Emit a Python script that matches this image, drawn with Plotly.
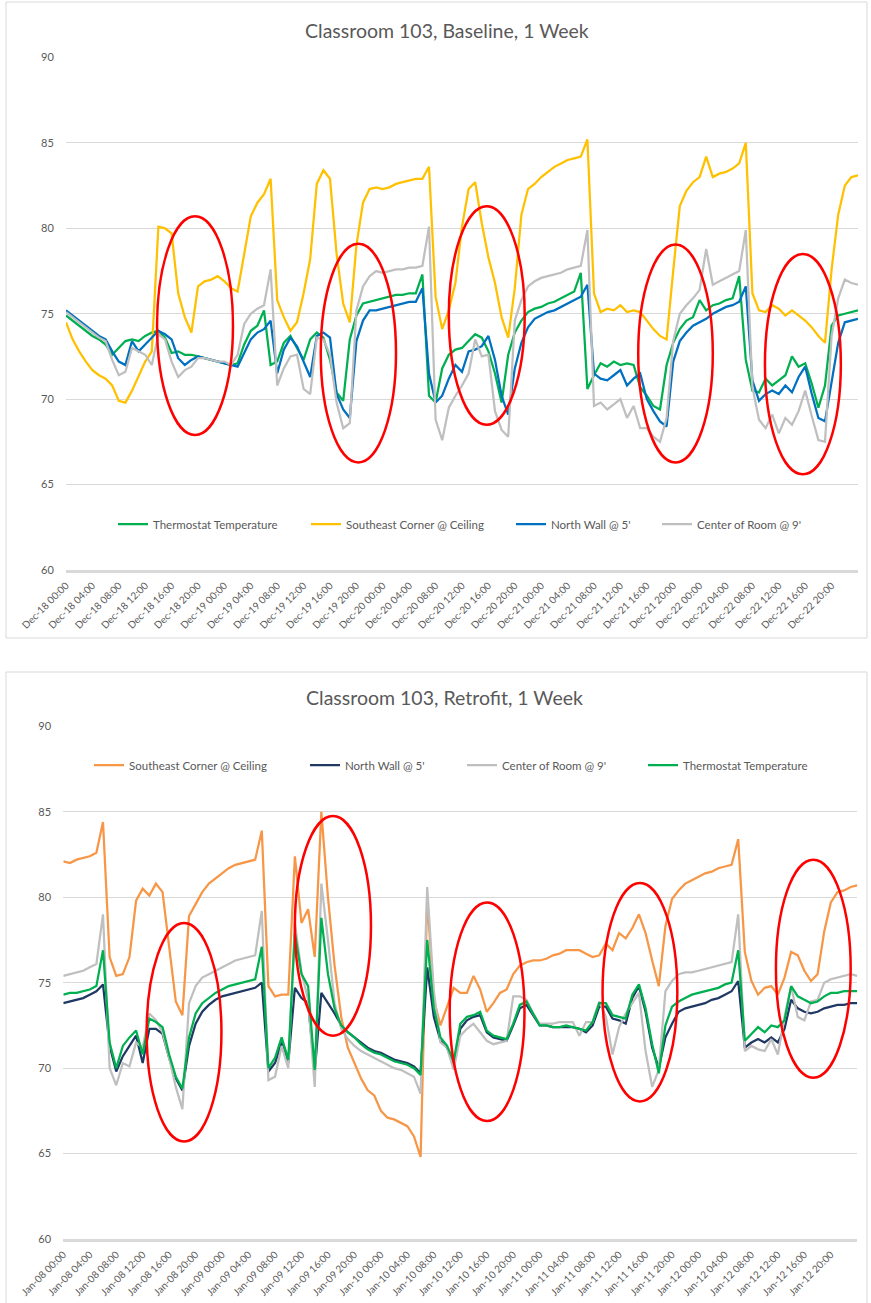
import plotly.graph_objects as go
from datetime import datetime, timedelta

W, H = 871, 1303

# ---------------- data ----------------
hours = list(range(121))
top_start = datetime(2017, 12, 18)
bot_start = datetime(2018, 1, 8)
tick_hours = list(range(0, 120, 4))

top_title = "Classroom 103, Baseline, 1 Week"
bot_title = "Classroom 103, Retrofit, 1 Week"

top_thermostat = [
    74.9, 74.6, 74.3, 74.0, 73.7, 73.5, 73.2, 72.6, 73.0, 73.4,
    73.5, 73.4, 73.7, 73.9, 74.0, 73.6, 72.7, 72.8, 72.6, 72.6,
    72.5, 72.4, 72.3, 72.2, 72.1, 72.0, 72.1, 73.2, 74.0, 74.3,
    75.2, 72.0, 72.2, 73.3, 73.7, 73.0, 72.3, 73.5, 73.9, 73.6,
    72.3, 70.4, 69.9, 73.5, 74.9, 75.6, 75.7, 75.8, 75.9, 76.0,
    76.1, 76.1, 76.2, 76.2, 77.3, 70.2, 69.8, 71.8, 72.6, 72.9,
    73.0, 73.4, 73.8, 73.6, 72.8, 71.5, 69.8, 72.6, 73.9, 74.6,
    75.1, 75.3, 75.4, 75.6, 75.7, 75.9, 76.1, 76.3, 77.4, 70.6,
    71.4, 72.1, 71.9, 72.2, 72.0, 72.1, 72.0, 70.7, 70.2, 69.6,
    69.4, 72.0, 73.3, 74.1, 74.6, 74.8, 75.8, 75.2, 75.5, 75.6,
    75.8, 75.9, 77.2, 72.3, 70.5, 70.4, 71.2, 70.8, 71.1, 71.4,
    72.5, 71.9, 72.1, 70.9, 69.5, 70.8, 74.3, 74.9, 75.0, 75.1,
    75.2]
top_southeast = [
    74.5, 73.5, 72.8, 72.2, 71.7, 71.4, 71.2, 70.8, 69.9, 69.8,
    70.5, 71.3, 72.2, 72.8, 80.1, 80.0, 79.7, 76.2, 74.8, 73.9,
    76.6, 76.9, 77.0, 77.2, 76.9, 76.5, 76.3, 78.5, 80.7, 81.5,
    82.0, 82.9, 75.8, 74.8, 74.0, 74.5, 76.2, 78.2, 82.6, 83.4,
    82.9, 78.5, 75.6, 74.5, 79.0, 81.5, 82.3, 82.4, 82.3, 82.4,
    82.6, 82.7, 82.8, 82.9, 82.9, 83.6, 76.0, 74.1, 75.2, 76.8,
    80.1, 82.3, 82.7, 80.3, 78.3, 76.8, 74.8, 73.6, 76.5, 80.8,
    82.3, 82.6, 83.0, 83.3, 83.6, 83.8, 84.0, 84.1, 84.2, 85.2,
    76.2, 75.1, 75.3, 75.2, 75.5, 75.1, 75.2, 75.1, 74.6, 74.1,
    73.7, 73.5, 77.5, 81.3, 82.2, 82.7, 83.0, 84.2, 83.0, 83.2,
    83.3, 83.5, 83.8, 85.0, 76.2, 75.2, 75.1, 75.5, 75.3, 74.9,
    75.2, 74.9, 74.6, 74.2, 73.7, 73.3, 77.6, 80.8, 82.5, 83.0,
    83.1]
top_north = [
    75.2, 74.9, 74.6, 74.3, 74.0, 73.7, 73.5, 72.8, 72.2, 72.0,
    73.4, 72.8, 73.2, 73.6, 74.0, 73.8, 73.5, 72.4, 72.0, 72.3,
    72.5, 72.4, 72.3, 72.2, 72.1, 72.0, 71.9, 72.7, 73.5, 73.9,
    74.1, 74.6, 71.5, 72.9, 73.6, 73.1, 72.2, 71.3, 73.7, 73.9,
    73.6, 70.3, 69.4, 68.9, 73.4, 74.6, 75.2, 75.2, 75.3, 75.4,
    75.5, 75.6, 75.7, 75.7, 76.5, 71.5, 69.8, 70.2, 71.2, 72.0,
    71.6, 72.8, 72.9, 73.1, 73.7, 72.3, 70.2, 69.1, 71.8, 73.3,
    74.2, 74.7, 74.9, 75.1, 75.2, 75.4, 75.6, 75.8, 76.0, 76.7,
    71.5, 71.2, 71.1, 71.4, 71.7, 70.8, 71.2, 71.5, 70.0, 69.3,
    68.7, 68.4, 72.2, 73.4, 73.9, 74.3, 74.5, 74.7, 75.0, 75.2,
    75.4, 75.5, 75.7, 76.6, 71.1, 69.9, 70.3, 70.5, 70.3, 70.8,
    70.4, 71.3, 71.9, 70.3, 68.9, 68.7, 71.1, 73.3, 74.5, 74.6,
    74.7]
top_center = [
    75.1, 74.8, 74.5, 74.2, 73.9, 73.6, 73.4, 72.3, 71.4, 71.6,
    73.0, 72.8, 72.6, 72.0, 73.8, 73.5, 72.2, 71.3, 71.7, 71.9,
    72.4, 72.4, 72.3, 72.2, 72.2, 72.0, 72.6, 74.4, 75.0, 75.3,
    75.5, 77.6, 70.8, 71.8, 72.5, 72.6, 70.6, 70.3, 73.6, 73.5,
    72.6, 69.8, 68.3, 68.6, 75.2, 76.6, 77.2, 77.5, 77.4, 77.5,
    77.6, 77.6, 77.7, 77.7, 77.8, 80.1, 68.8, 67.6, 69.5, 70.2,
    70.8, 71.5, 73.5, 72.5, 72.6, 69.3, 68.2, 67.8, 74.6, 75.8,
    76.6, 76.9, 77.1, 77.2, 77.3, 77.4, 77.6, 77.7, 77.8, 79.9,
    69.6, 69.8, 69.4, 69.7, 70.0, 68.9, 69.6, 68.3, 68.3, 67.8,
    67.5, 68.9, 73.4, 75.0, 75.5, 75.9, 76.4, 78.8, 76.7, 76.9,
    77.1, 77.3, 77.5, 79.9, 70.7, 68.8, 68.3, 69.1, 68.0, 68.9,
    68.5, 69.3, 70.5, 69.0, 67.6, 67.5, 73.7, 75.9, 77.0, 76.8,
    76.7]

bot_southeast = [
    82.1, 82.0, 82.2, 82.3, 82.4, 82.6, 84.4, 76.5, 75.4, 75.5,
    76.5, 79.8, 80.5, 80.1, 80.8, 80.3, 77.2, 73.9, 73.1, 78.9,
    79.6, 80.3, 80.8, 81.1, 81.4, 81.7, 81.9, 82.0, 82.1, 82.2,
    83.9, 74.8, 74.2, 74.3, 74.3, 82.4, 78.5, 79.3, 76.5, 85.0,
    80.0, 76.0, 73.0, 71.2, 70.3, 69.4, 68.7, 68.4, 67.5, 67.1,
    67.0, 66.8, 66.6, 66.0, 64.8, 80.0, 74.0, 72.5, 73.6, 74.7,
    74.4, 74.4, 75.4, 74.6, 73.3, 73.8, 74.4, 74.6, 75.5, 76.0,
    76.2, 76.3, 76.3, 76.4, 76.6, 76.7, 76.9, 76.9, 76.9, 76.7,
    76.5, 76.6, 77.3, 76.9, 77.9, 77.6, 78.2, 79.0, 77.9, 76.3,
    74.8, 78.3, 79.9, 80.4, 80.8, 81.0, 81.2, 81.4, 81.5, 81.7,
    81.8, 81.9, 83.4, 76.8, 75.1, 74.3, 74.7, 74.8, 74.3, 75.3,
    76.8, 76.6, 75.7, 75.1, 75.5, 78.0, 79.7, 80.3, 80.4, 80.6,
    80.7]
bot_north = [
    73.8, 73.9, 74.0, 74.1, 74.3, 74.5, 74.9, 71.3, 69.8, 70.7,
    71.3, 71.9, 70.3, 72.3, 72.3, 72.0, 70.6, 69.4, 68.7, 71.3,
    72.6, 73.3, 73.7, 74.0, 74.2, 74.3, 74.4, 74.5, 74.6, 74.7,
    75.0, 69.8, 70.3, 71.5, 70.3, 74.7, 74.1, 73.8, 69.8, 74.4,
    73.8, 73.2, 72.5, 72.1, 71.8, 71.5, 71.2, 71.0, 70.9, 70.7,
    70.5, 70.4, 70.3, 70.1, 69.7, 75.9, 73.0, 71.6, 71.2, 70.2,
    72.3, 72.8, 73.0, 73.1, 72.1, 71.8, 71.7, 71.6, 72.5, 73.5,
    73.7, 73.1, 72.5, 72.5, 72.4, 72.4, 72.4, 72.4, 72.3, 72.1,
    72.5, 73.6, 73.6, 72.9, 72.8, 72.6, 74.1, 74.8, 73.3, 71.2,
    70.0, 71.8, 72.6, 73.3, 73.5, 73.6, 73.7, 73.8, 74.0, 74.1,
    74.3, 74.5, 75.1, 71.2, 71.5, 71.7, 71.5, 71.8, 71.5, 72.3,
    74.0, 73.5, 73.3, 73.2, 73.3, 73.5, 73.6, 73.7, 73.7, 73.8,
    73.8]
bot_center = [
    75.4, 75.5, 75.6, 75.7, 75.9, 76.1, 79.0, 70.0, 69.0, 70.3,
    70.1, 71.5, 71.2, 73.2, 72.8, 72.1, 70.6, 68.9, 67.6, 73.8,
    74.8, 75.3, 75.5, 75.7, 75.9, 76.1, 76.3, 76.4, 76.5, 76.6,
    79.2, 69.3, 69.5, 71.3, 70.0, 78.5, 75.6, 74.0, 68.9, 80.8,
    77.5, 73.8, 72.3, 71.7, 71.3, 71.0, 70.8, 70.6, 70.4, 70.2,
    70.0, 69.9, 69.7, 69.5, 68.5, 80.6, 74.5, 71.5, 71.2, 69.9,
    71.9, 72.3, 72.6, 72.1, 71.6, 71.4, 71.5, 71.6, 74.2, 74.2,
    74.0, 73.2, 72.6, 72.6, 72.6, 72.7, 72.7, 72.7, 71.9, 72.7,
    72.7, 73.9, 73.0, 70.8, 72.4, 73.2, 73.8, 74.4, 71.0, 68.9,
    69.9, 74.5, 75.1, 75.5, 75.6, 75.6, 75.7, 75.8, 75.9, 76.0,
    76.1, 76.2, 79.0, 71.0, 71.3, 71.1, 71.0, 71.7, 70.8, 73.0,
    74.8, 73.0, 72.8, 73.9, 74.0, 75.0, 75.2, 75.3, 75.4, 75.5,
    75.4]
bot_thermostat = [
    74.3, 74.4, 74.4, 74.5, 74.6, 74.8, 76.9, 71.5, 70.0, 71.3,
    71.8, 72.2, 70.8, 72.9, 72.7, 72.4, 70.8, 69.5, 68.8, 71.8,
    73.2, 73.8, 74.1, 74.4, 74.6, 74.8, 74.9, 75.0, 75.1, 75.2,
    77.1, 70.0, 70.6, 71.8, 70.5, 77.9, 75.5, 74.8, 69.9, 78.8,
    75.5, 73.5, 72.5, 72.1, 71.8, 71.4, 71.1, 70.9, 70.8, 70.6,
    70.4, 70.3, 70.2, 70.0, 69.6, 77.5, 73.5, 71.8, 71.3, 70.4,
    72.6, 73.0, 73.1, 73.3, 72.2, 71.9, 71.8, 71.7, 72.6, 73.7,
    73.9, 73.2, 72.5, 72.5, 72.4, 72.4, 72.5, 72.4, 72.3, 72.2,
    72.7, 73.8, 73.8, 73.1, 73.0, 72.9, 74.3, 74.9, 73.5, 71.4,
    69.7, 72.5, 73.6, 73.9, 74.1, 74.3, 74.4, 74.5, 74.6, 74.7,
    74.9, 75.0, 76.9, 71.6, 72.0, 72.4, 72.1, 72.5, 72.4, 72.8,
    74.8, 74.2, 74.0, 73.8, 73.9, 74.2, 74.4, 74.4, 74.5, 74.5,
    74.5]

# red highlight ellipses: (start hour, end hour) and (low value, high value)
top_ellipse_hours = [(13.8, 25.3), (38.6, 50.0), (58.0, 69.5), (86.7, 98.0), (105.9, 117.4)]
top_ellipse_values = [(67.9, 80.7), (66.3, 79.1), (68.5, 81.3), (66.3, 79.05), (65.6, 78.5)]
bot_ellipse_hours = [(12.6, 23.9), (35.0, 46.5), (58.4, 69.7), (81.5, 92.8), (107.7, 119.0)]
bot_ellipse_values = [(65.7, 78.5), (71.9, 84.75), (66.9, 79.7), (68.05, 80.84), (69.44, 82.2)]

# ---------------- styling ----------------
FONT = "Lato"
TXT = "#595959"
GRID = "#d9d9d9"


def fx(p):
    return p / W


def fy(p):
    return 1 - p / H


top_x = [top_start + timedelta(hours=h) for h in hours]
bot_x = [bot_start + timedelta(hours=h) for h in hours]

top_series = [
    ("Thermostat Temperature", top_thermostat, "#00b050"),
    ("Southeast Corner @ Ceiling", top_southeast, "#ffc000"),
    ("North Wall @ 5'", top_north, "#0070c0"),
    ("Center of Room @ 9'", top_center, "#bfbfbf"),
]
bot_series = [
    ("Southeast Corner @ Ceiling", bot_southeast, "#f79646"),
    ("North Wall @ 5'", bot_north, "#1f3864"),
    ("Center of Room @ 9'", bot_center, "#bfbfbf"),
    ("Thermostat Temperature", bot_thermostat, "#00b050"),
]
# legend text left edges (px) and legend row centre (px)
top_leg_text_x = [152, 345, 550, 696]
top_leg_y = 524
bot_leg_text_x = [128, 344, 501, 682]
bot_leg_y = 765

fig = go.Figure()
legend_names = ["legend"] + [f"legend{i}" for i in range(2, 9)]

for i, (name, vals, color) in enumerate(top_series):
    fig.add_trace(go.Scatter(x=top_x, y=vals, mode="lines", name=name,
                             line=dict(color=color, width=2.25),
                             xaxis="x", yaxis="y", legend=legend_names[i],
                             hoverinfo="skip"))
for i, (name, vals, color) in enumerate(bot_series):
    fig.add_trace(go.Scatter(x=bot_x, y=vals, mode="lines", name=name,
                             line=dict(color=color, width=2.25),
                             xaxis="x2", yaxis="y2", legend=legend_names[4 + i],
                             hoverinfo="skip"))

legend_layout = {}
for i, tx in enumerate(top_leg_text_x + bot_leg_text_x):
    ly = top_leg_y if i < 4 else bot_leg_y
    legend_layout[legend_names[i]] = dict(
        x=fx(tx - 39), y=fy(ly), xanchor="left", yanchor="middle",
        orientation="h", bgcolor="rgba(0,0,0,0)", borderwidth=0,
        itemwidth=30, font=dict(family=FONT, size=11.5, color=TXT))

shapes = []
# chart area borders
shapes.append(dict(type="rect", xref="paper", yref="paper", x0=fx(6), x1=fx(867),
                   y0=fy(638), y1=fy(2), line=dict(color=GRID, width=1), layer="below"))
shapes.append(dict(type="rect", xref="paper", yref="paper", x0=fx(6), x1=fx(867),
                   y0=fy(1320), y1=fy(672), line=dict(color=GRID, width=1), layer="below"))

for (h0, h1), (v0, v1) in zip(top_ellipse_hours, top_ellipse_values):
    shapes.append(dict(type="circle", xref="x", yref="y",
                       x0=top_start + timedelta(hours=h0), x1=top_start + timedelta(hours=h1),
                       y0=v0, y1=v1, line=dict(color="#ff0000", width=2.5), layer="above"))
for (h0, h1), (v0, v1) in zip(bot_ellipse_hours, bot_ellipse_values):
    shapes.append(dict(type="circle", xref="x2", yref="y2",
                       x0=bot_start + timedelta(hours=h0), x1=bot_start + timedelta(hours=h1),
                       y0=v0, y1=v1, line=dict(color="#ff0000", width=2.5), layer="above"))

annotations = [
    dict(text=top_title, x=fx(447), y=fy(30), xref="paper", yref="paper",
         xanchor="center", yanchor="middle", showarrow=False,
         font=dict(family=FONT, size=19.5, color=TXT)),
    dict(text=bot_title, x=fx(444), y=fy(697), xref="paper", yref="paper",
         xanchor="center", yanchor="middle", showarrow=False,
         font=dict(family=FONT, size=19.5, color=TXT)),
]


def xaxis_cfg(start, dom):
    return dict(domain=dom, type="date",
                range=[start, start + timedelta(hours=120)],
                tickmode="array",
                tickvals=[start + timedelta(hours=h) for h in tick_hours],
                tickformat="%b-%d %H:%M",
                tickangle=-45, tickfont=dict(family=FONT, size=10, color=TXT),
                showgrid=False, zeroline=False, showline=True,
                linecolor=GRID, linewidth=2.5,
                ticks="outside", ticklen=3, tickcolor="rgba(0,0,0,0)",
                automargin=False, fixedrange=True)


def yaxis_cfg(dom, anchor):
    return dict(domain=dom, anchor=anchor, range=[60, 90], tick0=60, dtick=5,
                showgrid=True, gridcolor=GRID, gridwidth=1, zeroline=False,
                showline=False, tickfont=dict(family=FONT, size=11, color=TXT),
                ticks="outside", ticklen=9, tickcolor="rgba(0,0,0,0)",
                automargin=False, fixedrange=True)


layout = dict(
    template="none",
    width=W, height=H,
    margin=dict(l=0, r=0, t=0, b=0),
    paper_bgcolor="white", plot_bgcolor="white",
    font=dict(family=FONT, color=TXT),
    xaxis=dict(anchor="y", **xaxis_cfg(top_start, [fx(66), fx(858)])),
    yaxis=yaxis_cfg([fy(570), fy(57.5)], "x"),
    xaxis2=dict(anchor="y2", **xaxis_cfg(bot_start, [fx(63.3), fx(857.3)])),
    yaxis2=yaxis_cfg([fy(1239), fy(726.4)], "x2"),
    shapes=shapes,
    annotations=annotations,
    showlegend=True,
)
layout.update(legend_layout)
fig.update_layout(**layout)

fig.write_html("out.html", config={"displayModeBar": False},
               post_script="document.body.style.margin='0';document.body.style.overflow='hidden';")
